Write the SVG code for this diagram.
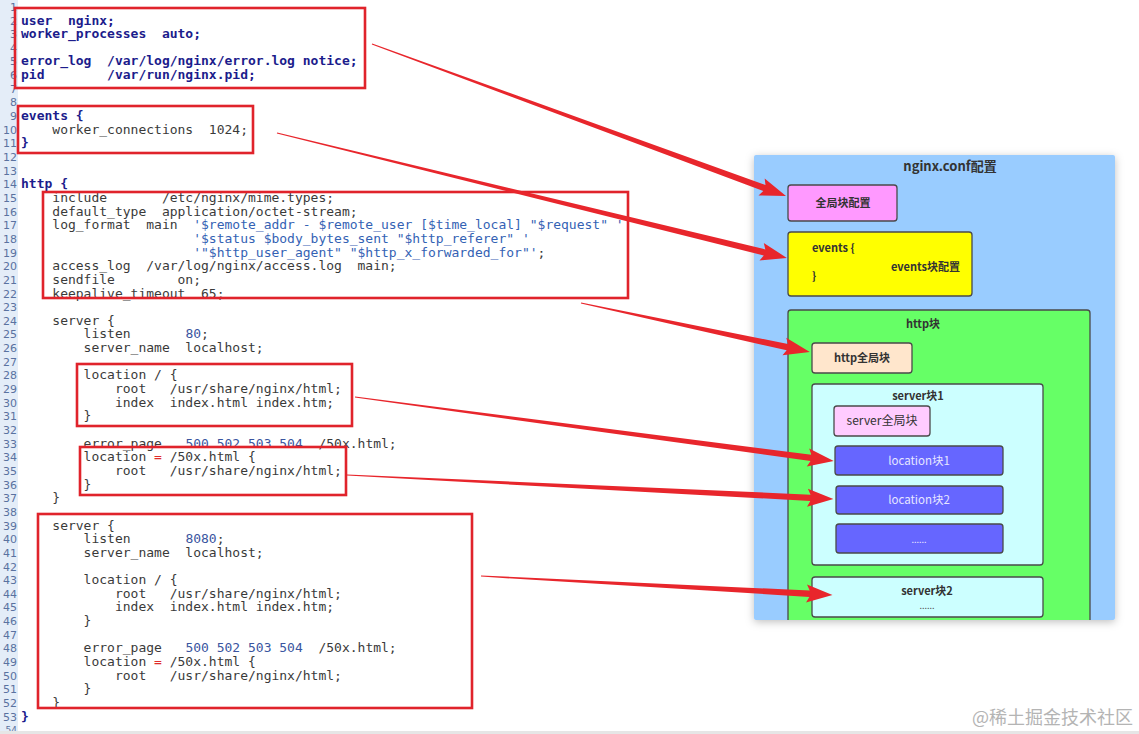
<svg xmlns="http://www.w3.org/2000/svg" width="1139" height="734" viewBox="0 0 1139 734">
<style>
.code{font-family:"DejaVu Sans Mono","Liberation Mono",monospace;font-size:13px;fill:#3a3a3a;white-space:pre}
.kw{font-weight:bold;fill:#1c1c8c}
.str{fill:#3462b4}
.num{fill:#3a55a0}
.eq{fill:#e02a2a}
.ln{font-family:"DejaVu Sans","Liberation Sans",sans-serif;font-size:11px;fill:#5a72a0;text-anchor:end}
.rb{fill:none;stroke:#e0232b;stroke-width:2.6}
.arrow{fill:#e8262c}
.nd{stroke:#4a4a4a;stroke-width:1.3}
.lbl{font-family:"Noto Sans CJK SC","DejaVu Sans",sans-serif;font-weight:bold;font-size:11px;fill:#333;text-anchor:middle}
.lbw{font-family:"Noto Sans CJK SC","DejaVu Sans",sans-serif;font-size:11.5px;fill:#e6e6ff;text-anchor:middle}
</style>
<defs>
<filter id="sh" x="-10%" y="-10%" width="120%" height="120%">
<feDropShadow dx="0" dy="2" stdDeviation="4" flood-color="#000" flood-opacity="0.25"/>
</filter>
</defs>
<rect width="1139" height="734" fill="#ffffff"/>
<rect x="0" y="0" width="18" height="734" fill="#e4edf8"/>

<g id="line-numbers">
<text class="ln" x="17" y="10.85">1</text>
<text class="ln" x="17" y="24.5">2</text>
<text class="ln" x="17" y="38.15">3</text>
<text class="ln" x="17" y="51.8">4</text>
<text class="ln" x="17" y="65.45">5</text>
<text class="ln" x="17" y="79.1">6</text>
<text class="ln" x="17" y="92.75">7</text>
<text class="ln" x="17" y="106.4">8</text>
<text class="ln" x="17" y="120.05">9</text>
<text class="ln" x="17" y="133.7">10</text>
<text class="ln" x="17" y="147.35">11</text>
<text class="ln" x="17" y="161">12</text>
<text class="ln" x="17" y="174.65">13</text>
<text class="ln" x="17" y="188.3">14</text>
<text class="ln" x="17" y="201.95">15</text>
<text class="ln" x="17" y="215.6">16</text>
<text class="ln" x="17" y="229.25">17</text>
<text class="ln" x="17" y="242.9">18</text>
<text class="ln" x="17" y="256.55">19</text>
<text class="ln" x="17" y="270.2">20</text>
<text class="ln" x="17" y="283.85">21</text>
<text class="ln" x="17" y="297.5">22</text>
<text class="ln" x="17" y="311.15">23</text>
<text class="ln" x="17" y="324.8">24</text>
<text class="ln" x="17" y="338.45">25</text>
<text class="ln" x="17" y="352.1">26</text>
<text class="ln" x="17" y="365.75">27</text>
<text class="ln" x="17" y="379.4">28</text>
<text class="ln" x="17" y="393.05">29</text>
<text class="ln" x="17" y="406.7">30</text>
<text class="ln" x="17" y="420.35">31</text>
<text class="ln" x="17" y="434">32</text>
<text class="ln" x="17" y="447.65">33</text>
<text class="ln" x="17" y="461.3">34</text>
<text class="ln" x="17" y="474.95">35</text>
<text class="ln" x="17" y="488.6">36</text>
<text class="ln" x="17" y="502.25">37</text>
<text class="ln" x="17" y="515.9">38</text>
<text class="ln" x="17" y="529.55">39</text>
<text class="ln" x="17" y="543.2">40</text>
<text class="ln" x="17" y="556.85">41</text>
<text class="ln" x="17" y="570.5">42</text>
<text class="ln" x="17" y="584.15">43</text>
<text class="ln" x="17" y="597.8">44</text>
<text class="ln" x="17" y="611.45">45</text>
<text class="ln" x="17" y="625.1">46</text>
<text class="ln" x="17" y="638.75">47</text>
<text class="ln" x="17" y="652.4">48</text>
<text class="ln" x="17" y="666.05">49</text>
<text class="ln" x="17" y="679.7">50</text>
<text class="ln" x="17" y="693.35">51</text>
<text class="ln" x="17" y="707">52</text>
<text class="ln" x="17" y="720.65">53</text>
<text class="ln" x="17" y="733" style="font-size:9px">54</text>
</g>

<g id="code">
<text class="code kw" x="21" y="24.5">user  nginx;</text>
<text class="code kw" x="21" y="38.15">worker_processes  auto;</text>
<text class="code kw" x="21" y="65.45">error_log  /var/log/nginx/error.log notice;</text>
<text class="code kw" x="21" y="79.1">pid        /var/run/nginx.pid;</text>
<text class="code kw" x="21" y="120.05">events {</text>
<text class="code" x="21" y="133.7">    worker_connections  1024;</text>
<text class="code kw" x="21" y="147.35">}</text>
<text class="code kw" x="21" y="188.3">http {</text>
<text class="code" x="21" y="201.95">    include       /etc/nginx/mime.types;</text>
<text class="code" x="21" y="215.6">    default_type  application/octet-stream;</text>
<text class="code" x="21" y="229.25">    log_format  main  <tspan class="str">'$remote_addr - $remote_user [$time_local] "$request" '</tspan></text>
<text class="code" x="21" y="242.9">                      <tspan class="str">'$status $body_bytes_sent "$http_referer" '</tspan></text>
<text class="code" x="21" y="256.55">                      <tspan class="str">'"$http_user_agent" "$http_x_forwarded_for"'</tspan>;</text>
<text class="code" x="21" y="270.2">    access_log  /var/log/nginx/access.log  main;</text>
<text class="code" x="21" y="283.85">    sendfile        on;</text>
<text class="code" x="21" y="297.5">    keepalive_timeout  65;</text>
<text class="code" x="21" y="324.8">    server {</text>
<text class="code" x="21" y="338.45">        listen       <tspan class="num">80</tspan>;</text>
<text class="code" x="21" y="352.1">        server_name  localhost;</text>
<text class="code" x="21" y="379.4">        location / {</text>
<text class="code" x="21" y="393.05">            root   /usr/share/nginx/html;</text>
<text class="code" x="21" y="406.7">            index  index.html index.htm;</text>
<text class="code" x="21" y="420.35">        }</text>
<text class="code" x="21" y="447.65">        error_page   <tspan class="num">500 502 503 504</tspan>  /50x.html;</text>
<text class="code" x="21" y="461.3">        location <tspan class="eq">=</tspan> /50x.html {</text>
<text class="code" x="21" y="474.95">            root   /usr/share/nginx/html;</text>
<text class="code" x="21" y="488.6">        }</text>
<text class="code" x="21" y="502.25">    }</text>
<text class="code" x="21" y="529.55">    server {</text>
<text class="code" x="21" y="543.2">        listen       <tspan class="num">8080</tspan>;</text>
<text class="code" x="21" y="556.85">        server_name  localhost;</text>
<text class="code" x="21" y="584.15">        location / {</text>
<text class="code" x="21" y="597.8">            root   /usr/share/nginx/html;</text>
<text class="code" x="21" y="611.45">            index  index.html index.htm;</text>
<text class="code" x="21" y="625.1">        }</text>
<text class="code" x="21" y="652.4">        error_page   <tspan class="num">500 502 503 504</tspan>  /50x.html;</text>
<text class="code" x="21" y="666.05">        location <tspan class="eq">=</tspan> /50x.html {</text>
<text class="code" x="21" y="679.7">            root   /usr/share/nginx/html;</text>
<text class="code" x="21" y="693.35">        }</text>
<text class="code" x="21" y="707">    }</text>
<text class="code kw" x="21" y="720.65">}</text>
</g>

<rect x="0" y="731" width="1139" height="3" fill="#e6e6e6"/>

<g id="code-boxes">
<rect class="rb" x="15" y="8" width="350" height="80"/>
<rect class="rb" x="18" y="106" width="235" height="47"/>
<rect class="rb" x="43" y="192" width="585" height="106"/>
<rect class="rb" x="77" y="364" width="275" height="62"/>
<rect class="rb" x="80" y="447" width="266" height="48"/>
<rect class="rb" x="38" y="514" width="434" height="194"/>
</g>

<g id="panel">
<rect x="754" y="155" width="361" height="465" rx="2" fill="#99ccff" filter="url(#sh)"/>
<text class="lbl" x="950" y="171" style="font-size:13px">nginx.conf配置</text>
</g>

<g id="global-block">
<rect class="nd" x="788" y="185" width="109" height="36" rx="3" fill="#ff99ff"/>
<text class="lbl" x="843" y="207">全局块配置</text>
</g>

<g id="events-block">
<rect class="nd" x="788" y="232" width="184" height="64" rx="3" fill="#ffff00"/>
<text class="lbl" x="812" y="252" style="text-anchor:start">events {</text>
<text class="lbl" x="891" y="271" style="text-anchor:start">events块配置</text>
<text class="lbl" x="812" y="280" style="text-anchor:start">}</text>
</g>

<g id="http-block">
<rect x="788" y="310" width="302" height="310" fill="#66ff66"/>
<path d="M788,620 V313 Q788,310 791,310 H1087 Q1090,310 1090,313 V620" fill="none" stroke="#4a4a4a" stroke-width="1.3"/>
<text class="lbl" x="923" y="328">http块</text>
</g>

<g id="http-global">
<rect class="nd" x="812" y="343" width="100" height="30" rx="3" fill="#ffe6cc"/>
<text class="lbl" x="862" y="362">http全局块</text>
</g>

<g id="server1">
<rect class="nd" x="812" y="384" width="231" height="181" rx="3" fill="#ccffff"/>
<text class="lbl" x="918" y="400">server块1</text>
</g>

<g id="server-global">
<rect class="nd" x="834" y="406" width="96" height="30" rx="3" fill="#ffccff"/>
<text class="lbl" x="882" y="425" style="font-size:12px;font-weight:normal">server全局块</text>
</g>

<g id="location1">
<rect class="nd" x="835" y="446" width="168" height="29" rx="3" fill="#6666ff"/>
<text class="lbw" x="919" y="465">location块1</text>
</g>

<g id="location2">
<rect class="nd" x="836" y="486" width="167" height="28" rx="3" fill="#6666ff"/>
<text class="lbw" x="919" y="504">location块2</text>
</g>

<g id="location-more">
<rect class="nd" x="836" y="524" width="167" height="29" rx="3" fill="#6666ff"/>
<text class="lbw" x="919" y="543" style="font-size:9px">......</text>
</g>

<g id="server2">
<rect class="nd" x="812" y="577" width="231" height="40" rx="3" fill="#ccffff"/>
<text class="lbl" x="927" y="595">server块2</text>
<text class="lbl" x="927" y="609" style="font-size:9px;font-weight:normal;fill:#555">......</text>
</g>

<g id="connectors">
<path class="arrow" transform="translate(372,44) rotate(20.16)" d="M0,-0.6 L418,-3.2 L415,-9 L441,0 L415,9 L418,3.2 L0,0.6 Z"/>
<path class="arrow" transform="translate(277,133) rotate(13.77)" d="M0,-0.6 L502,-3.2 L499,-9 L525,0 L499,9 L502,3.2 L0,0.6 Z"/>
<path class="arrow" transform="translate(581,303) rotate(12.08)" d="M0,-0.6 L211,-3.2 L208,-9 L234,0 L208,9 L211,3.2 L0,0.6 Z"/>
<path class="arrow" transform="translate(355,397) rotate(7.61)" d="M0,-0.6 L460,-3.2 L457,-9 L483,0 L457,9 L460,3.2 L0,0.6 Z"/>
<path class="arrow" transform="translate(347,475) rotate(2.82)" d="M0,-0.6 L464,-3.2 L461,-9 L487,0 L461,9 L464,3.2 L0,0.6 Z"/>
<path class="arrow" transform="translate(481,576) rotate(3.09)" d="M0,-0.6 L329,-3.2 L326,-9 L352,0 L326,9 L329,3.2 L0,0.6 Z"/>
</g>

<text x="1133" y="724" style="font-family:'Noto Sans CJK SC',sans-serif;font-size:18px;fill:#b4b4b4;text-anchor:end">@稀土掘金技术社区</text>
</svg>
